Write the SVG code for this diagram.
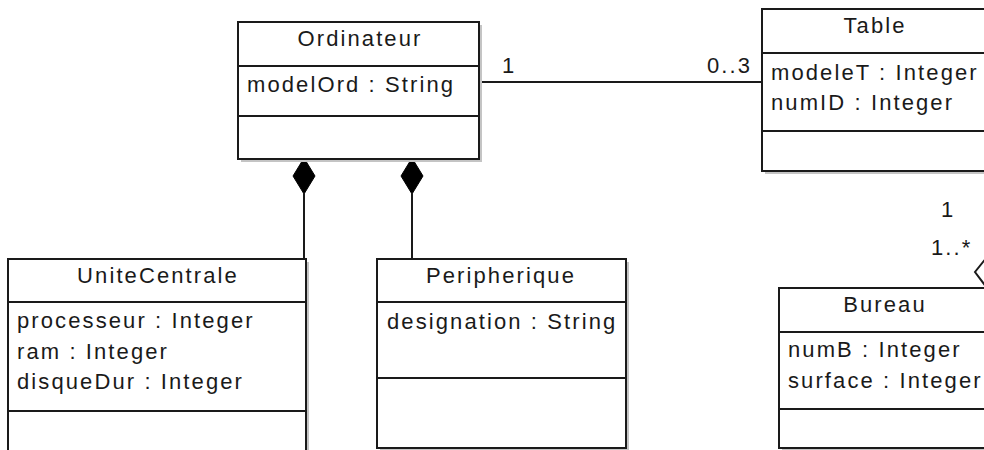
<svg xmlns="http://www.w3.org/2000/svg" width="984" height="450" viewBox="0 0 984 450">
<style>
.box{fill:#fff;stroke:#1a1a1a;stroke-width:2}
.shadow{fill:#c4c4c4}
.sep{stroke:#1a1a1a;stroke-width:2}
.t{font-family:"Liberation Sans",Arial,sans-serif;font-size:22px;letter-spacing:2.1px;fill:#1a1a1a}
.c{text-anchor:middle}
.edge{stroke:#1a1a1a;stroke-width:2;fill:none}
.comp{fill:#000;stroke:#000;stroke-width:1}
.agg{fill:#fff;stroke:#1a1a1a;stroke-width:2}
</style>
<rect width="984" height="450" fill="#fff"/>
<g id="connectors">
<line class="edge" x1="479" y1="82" x2="762" y2="82"/>
<text class="t" x="502" y="73">1</text>
<text class="t" x="707" y="73">0..3</text>
<line class="edge" x1="304" y1="194" x2="304" y2="259"/>
<polygon class="comp" points="304,158 315,176 304,194 293,176"/>
<line class="edge" x1="412" y1="194" x2="412" y2="259"/>
<polygon class="comp" points="412,158 423,176 412,194 401,176"/>
<line class="edge" x1="987" y1="171" x2="987" y2="257"/>
<polygon class="agg" points="987,257 999,272 987,288 975,272"/>
<text class="t" x="941" y="217">1</text>
<text class="t" x="931" y="255">1..*</text>
</g>
<g id="Ordinateur">
<rect class="shadow" x="241" y="25" width="241" height="137"/>
<rect class="box" x="238" y="22" width="241" height="137"/>
<line class="sep" x1="238" y1="66" x2="479" y2="66"/>
<line class="sep" x1="238" y1="116" x2="479" y2="116"/>
<text class="t c" x="360" y="46">Ordinateur</text>
<text class="t" x="247" y="92">modelOrd : String</text>
</g>
<g id="Table">
<rect class="shadow" x="765" y="12" width="224" height="162"/>
<rect class="box" x="762" y="9" width="224" height="162"/>
<line class="sep" x1="762" y1="53" x2="986" y2="53"/>
<line class="sep" x1="762" y1="131" x2="986" y2="131"/>
<text class="t c" x="875" y="33">Table</text>
<text class="t" x="771" y="80">modeleT : Integer</text>
<text class="t" x="771" y="110">numID : Integer</text>
</g>
<g id="UniteCentrale">
<rect class="shadow" x="11" y="262" width="298" height="200"/>
<rect class="box" x="8" y="259" width="298" height="200"/>
<line class="sep" x1="8" y1="302" x2="306" y2="302"/>
<line class="sep" x1="8" y1="411" x2="306" y2="411"/>
<text class="t c" x="158" y="283">UniteCentrale</text>
<text class="t" x="17" y="328">processeur : Integer</text>
<text class="t" x="17" y="359">ram : Integer</text>
<text class="t" x="17" y="389">disqueDur : Integer</text>
</g>
<g id="Peripherique">
<rect class="shadow" x="380" y="262" width="249" height="189"/>
<rect class="box" x="377" y="259" width="249" height="189"/>
<line class="sep" x1="377" y1="302" x2="626" y2="302"/>
<line class="sep" x1="377" y1="378" x2="626" y2="378"/>
<text class="t c" x="501" y="283">Peripherique</text>
<text class="t" x="387" y="329">designation : String</text>
</g>
<g id="Bureau">
<rect class="shadow" x="782" y="291" width="210" height="160"/>
<rect class="box" x="779" y="288" width="210" height="160"/>
<line class="sep" x1="779" y1="332" x2="989" y2="332"/>
<line class="sep" x1="779" y1="409" x2="989" y2="409"/>
<text class="t c" x="885" y="312">Bureau</text>
<text class="t" x="788" y="357">numB : Integer</text>
<text class="t" x="788" y="388">surface : Integer</text>
</g>
</svg>
